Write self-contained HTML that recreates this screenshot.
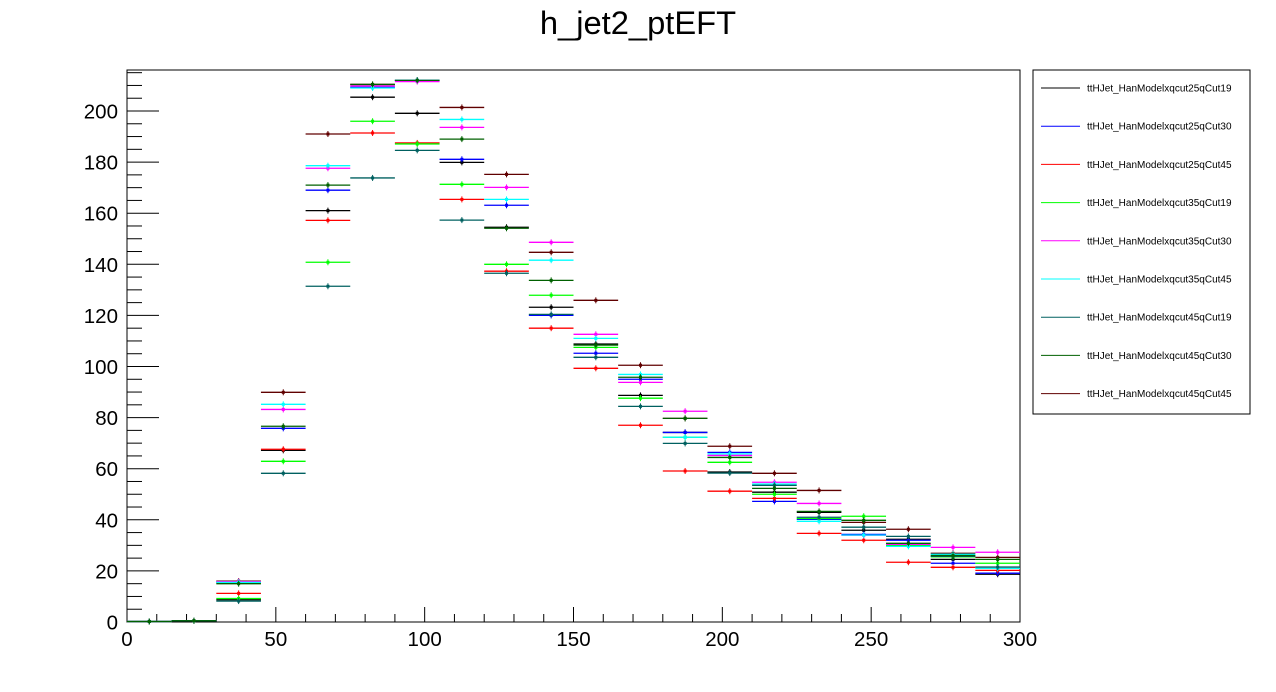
<!DOCTYPE html>
<html><head><meta charset="utf-8"><style>
html,body{margin:0;padding:0;background:#fff;}
svg{display:block;font-family:"Liberation Sans",sans-serif;}
</style></head><body>
<svg id="chart" width="1276" height="692"></svg>
<script>
const binEdges=[0,15,30,45,60,75,90,105,120,135,150,165,180,195,210,225,240,255,270,285,300];
const seriesNames=["ttHJet_HanModelxqcut25qCut19","ttHJet_HanModelxqcut25qCut30","ttHJet_HanModelxqcut25qCut45","ttHJet_HanModelxqcut35qCut19","ttHJet_HanModelxqcut35qCut30","ttHJet_HanModelxqcut35qCut45","ttHJet_HanModelxqcut45qCut19","ttHJet_HanModelxqcut45qCut30","ttHJet_HanModelxqcut45qCut45"];
const seriesColors=["#000000","#0000ff","#ff0000","#00ff00","#ff00ff","#00ffff","#006060","#006000","#600000"];
const s1=[0.2,0.5,8.7,67.2,161,205.4,199.1,179.9,154.5,123.2,108.8,88.7,74.2,58.7,50.8,42.9,35.9,32.4,24.5,18.7];
const s2=[0.2,0.5,15.5,75.8,169,209.3,212,181.1,163.1,120.0,105.2,95,74.2,66.4,47.2,40.2,34.3,32,23,19.1];
const s3=[0.2,0.5,11.2,67.6,157.2,191.4,187.5,165.4,137.3,115,99.3,77,59.1,51.2,48.4,34.7,32,23.4,21.4,20.2];
const s4=[0.2,0.5,9.2,62.9,140.8,196,187.1,171.3,140,127.9,107.5,87.6,72.3,62.5,50,40.5,41.4,30,25.5,23];
const s5=[0.2,0.5,15.8,83.2,177.6,209.8,211.5,193.6,170.1,148.6,112.6,93.8,82.5,65.2,54.7,46.4,33.9,30.4,29.2,27.3];
const s6=[0.2,0.5,15.5,85.2,178.6,209,212,196.7,165.4,141.6,111,96.9,72.3,65.8,54,39.4,34,29.6,26.5,21];
const s7=[0.2,0.5,8.2,58.2,131.4,173.8,184.6,157.3,136.5,120.4,103.6,84.4,69.9,58.3,53.5,41,37.1,33.5,25.7,21.5];
const s8=[0.2,0.5,15,76.6,171,210.4,212,189,154.1,133.7,108.4,95.8,79.7,64.4,52.3,43.3,39.8,30.8,26,24.5];
const s9=[0.2,0.5,16,89.9,191,210.4,212,201.4,175.2,144.7,125.9,100.5,79.7,68.8,58.2,51.5,39,36.3,26.9,25.3];
const allSeries=[s1,s2,s3,s4,s5,s6,s7,s8,s9];
const drawOrder=[8,0,1,2,3,4,5,6,7];
const xTicks=[0,50,100,150,200,250,300];
const yTicks=[0,20,40,60,80,100,120,140,160,180,200];

const NS="http://www.w3.org/2000/svg";
const svg=document.getElementById('chart');
const X0=127,X1=1020,Y0=622,Y1=70;
const xScale=v=>X0+(v-0)/(300-0)*(X1-X0);
const yScale=v=>Y0-v*(622-111)/200;
function mk(tag,attrs,parent){const e=document.createElementNS(NS,tag);for(const k in attrs)e.setAttribute(k,attrs[k]);(parent||svg).appendChild(e);return e;}

const title=mk('text',{x:638,y:34,'font-size':32.7,'text-anchor':'middle',fill:'#000'});


title.textContent='h_jet2_ptEFT';

const frame=mk('rect',{x:X0,y:Y1,width:X1-X0,height:Y0-Y1,fill:'none',stroke:'#000','stroke-width':1});



const xAxis=mk('g',{});


for(let v=0;v<=300;v+=10){const x=xScale(v);const major=v%50===0;mk('line',{x1:x,x2:x,y1:Y0,y2:Y0-(major?15:8),stroke:'#000','stroke-width':1},xAxis);}
xTicks.forEach(v=>{const t=mk('text',{x:xScale(v),y:646,'font-size':20.5,'text-anchor':'middle'},xAxis);


t.textContent=v;});

const yAxis=mk('g',{});


for(let v=0;v<=215;v+=5){const y=yScale(v);const major=v%20===0;mk('line',{x1:X0,x2:X0+(major?32:15),y1:y,y2:y,stroke:'#000','stroke-width':1},yAxis);}
yTicks.forEach(v=>{const t=mk('text',{x:118,y:yScale(v)+7.5,'font-size':20.5,'text-anchor':'end'},yAxis);


t.textContent=v;});

drawOrder.forEach(si=>{
  const vals=allSeries[si];
  const g=mk('g',{});
  
  
  const c=seriesColors[si];
  vals.forEach((v,i)=>{
    const xa=xScale(binEdges[i]),xb=xScale(binEdges[i+1]),xm=(xa+xb)/2,y=yScale(v);
    mk('line',{x1:xa,x2:xb,y1:y,y2:y,stroke:c,'stroke-width':1.3},g);
    mk('line',{x1:xm,x2:xm,y1:y-3,y2:y+3,stroke:c,'stroke-width':1},g);
    const m=mk('rect',{x:xm-1.5,y:y-1.5,width:3,height:3,fill:c},g);
    
    
  });
});

const leg=mk('g',{});


mk('rect',{x:1033,y:70,width:217,height:344,fill:'#fff',stroke:'#000','stroke-width':1},leg);
seriesNames.forEach((n,i)=>{
  const y=88+i*38.2;
  const e=mk('g',{},leg);
  
  
  mk('line',{x1:1041,x2:1080,y1:y,y2:y,stroke:seriesColors[i],'stroke-width':1},e);
  const t=mk('text',{x:1087,y:y+3.5,'font-size':10,fill:'#000'},e);
  t.textContent=n;
});
</script>
</body></html>
